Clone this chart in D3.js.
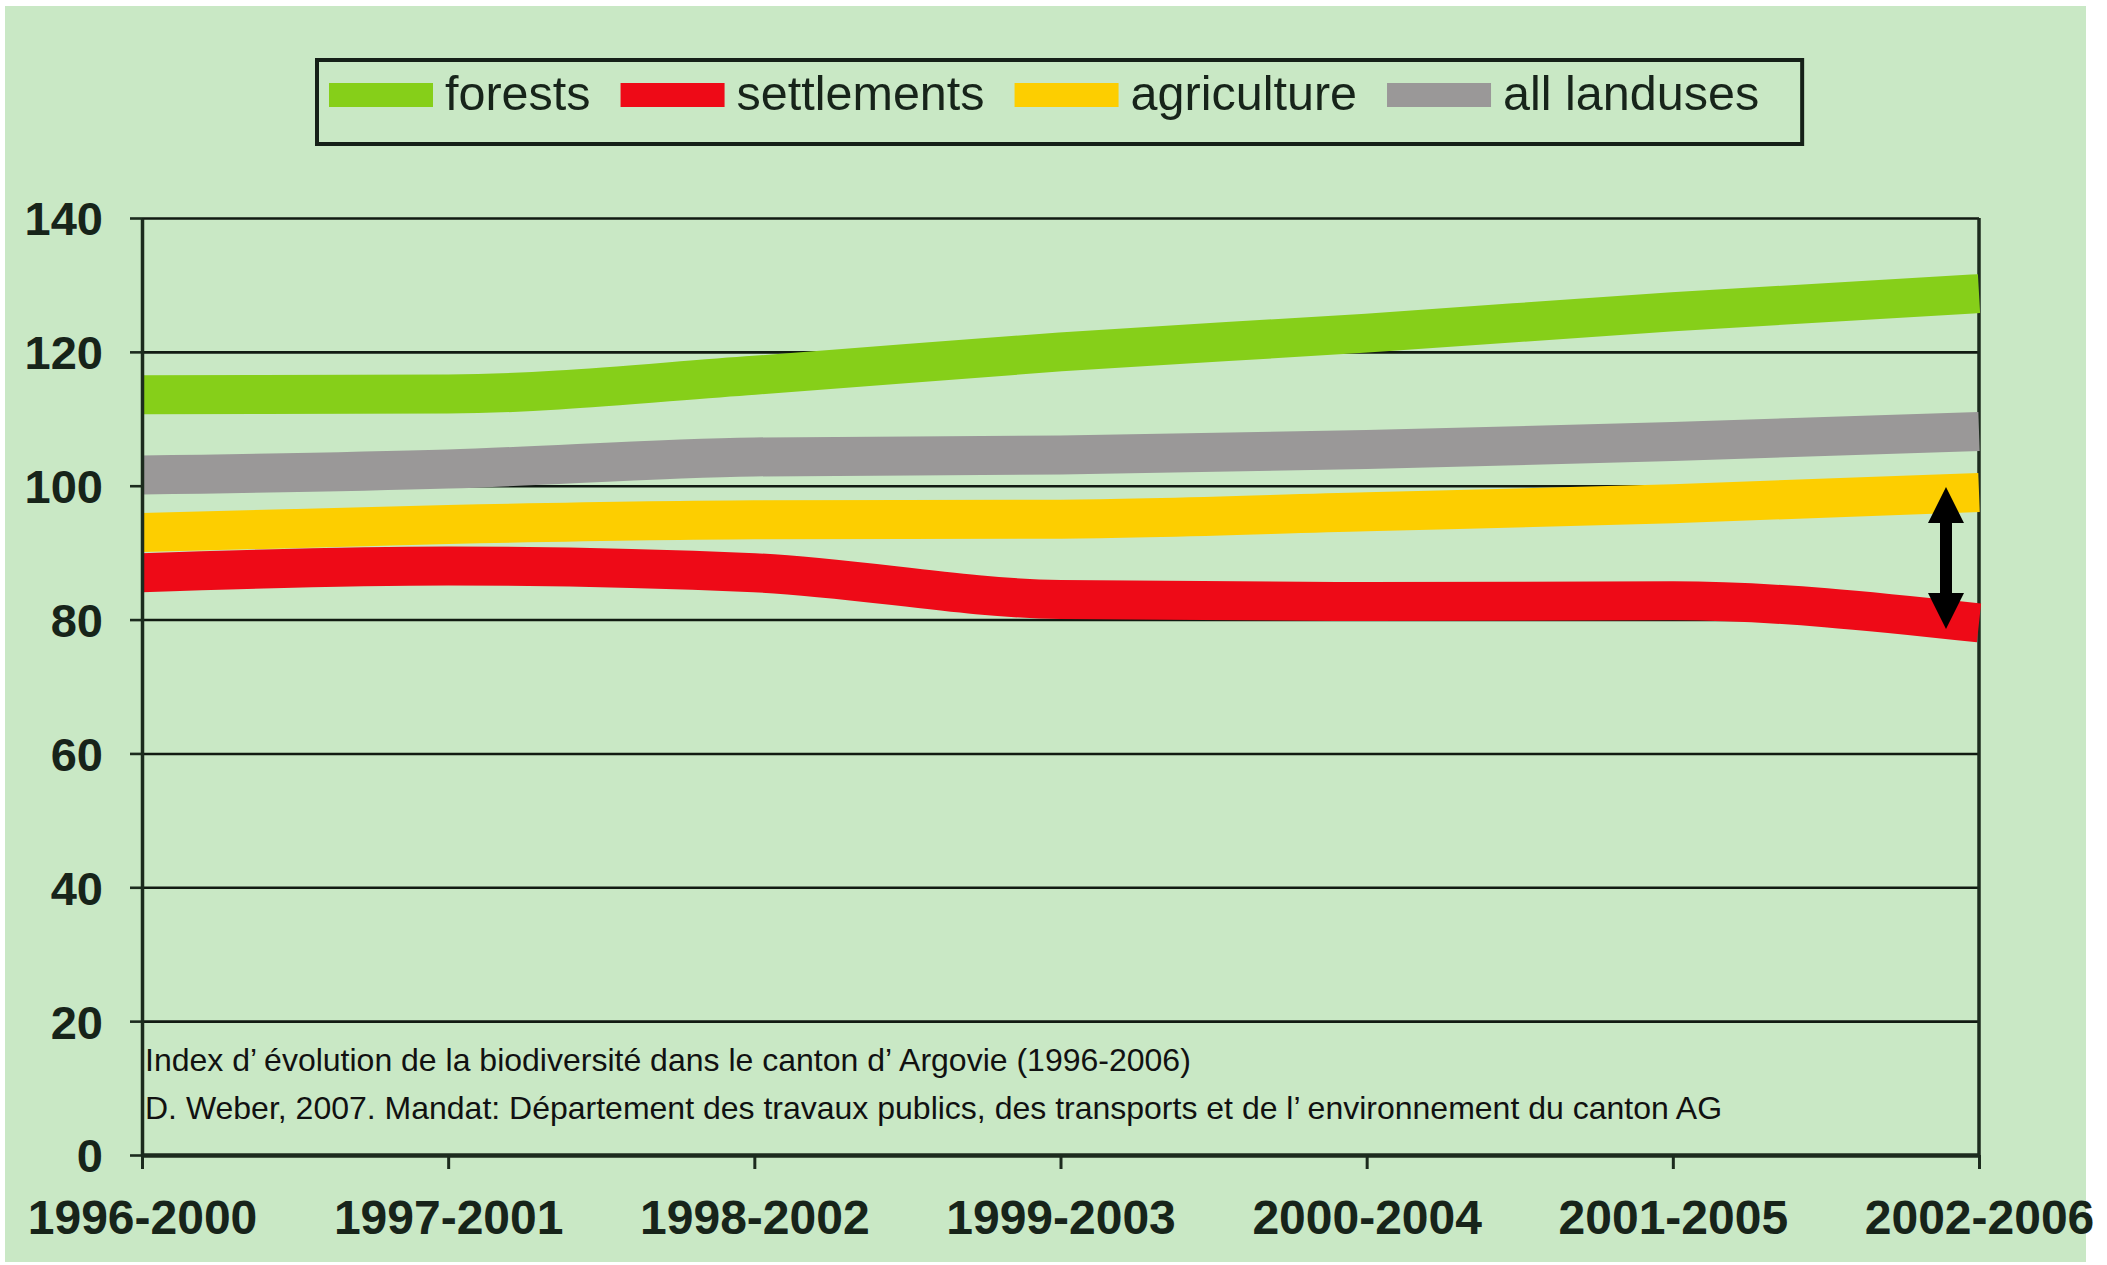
<!DOCTYPE html>
<html>
<head>
<meta charset="utf-8">
<script src="https://cdn.jsdelivr.net/npm/d3@7"></script>
<style>
  html, body { margin: 0; padding: 0; background: #ffffff; }
  svg { display: block; }
</style>
</head>
<body>
<svg id="chart" width="2107" height="1265"></svg>
<script>
// ---------------- data ----------------
const categories = ["1996-2000", "1997-2001", "1998-2002", "1999-2003", "2000-2004", "2001-2005", "2002-2006"];
const forests     = [113.6, 113.7, 116.5, 120.0, 122.8, 126.0, 128.7];
const settlements = [87.0, 88.0, 87.0, 83.0, 82.7, 82.8, 79.5];
const agriculture = [93.0, 94.2, 94.9, 95.0, 96.1, 97.3, 99.0];
const allLanduses = [101.6, 102.5, 104.3, 104.6, 105.4, 106.6, 108.1];
const seriesNames = ["forests", "settlements", "agriculture", "all landuses"];
const yTicks = [0, 20, 40, 60, 80, 100, 120, 140];
const arrowRange = [99.8, 78.6];
const noteLines = [
  "Index d’évolution de la biodiversité dans le canton d’Argovie (1996-2006)",
  "D. Weber, 2007. Mandat: Département des travaux publics, des transports et de l’environnement du canton AG"
];

// ---------------- setup ----------------
const colors = {
  "forests": "#86cf19",
  "settlements": "#ee0a17",
  "agriculture": "#fdce00",
  "all landuses": "#9a9898"
};
const seriesData = {
  "forests": forests,
  "settlements": settlements,
  "agriculture": agriculture,
  "all landuses": allLanduses
};
const FONT = "'Liberation Sans', Arial, Helvetica, sans-serif";
const INK = "#17241a";

const svg = d3.select("#chart");
svg.append("rect").attr("x", 5).attr("y", 6).attr("width", 2081).attr("height", 1256)
  .attr("fill", "#c9e8c5");

const x = d3.scalePoint().domain(categories).range([142, 1979]);
const y = d3.scaleLinear().domain([0, 140]).range([1155, 218]);

// grid
const grid = svg.append("g").attr("transform", "translate(142,0)")
  .call(d3.axisLeft(y).tickValues(yTicks.filter(d => d > 0)).tickSize(-(1979 - 142)).tickFormat(""));
grid.select(".domain").remove();
grid.selectAll(".tick line").attr("stroke", "#111a12").attr("stroke-width", 2.6);

// right border
svg.append("line").attr("x1", 1979).attr("x2", 1979).attr("y1", y(140)).attr("y2", y(0))
  .attr("stroke", "#1c2b1e").attr("stroke-width", 3.5);

// lines
const line = d3.line()
  .x((d, i) => x(categories[i]))
  .y(d => y(d))
  .curve(d3.curveMonotoneX);

const order = ["forests", "all landuses", "agriculture", "settlements"];
svg.append("g").selectAll("path").data(order).join("path")
  .attr("d", k => line(seriesData[k]))
  .attr("fill", "none")
  .attr("stroke", k => colors[k])
  .attr("stroke-width", 39)
  .attr("stroke-linecap", "butt")
  .attr("stroke-linejoin", "round");

// y axis
const yAxis = svg.append("g").attr("transform", "translate(142,0)")
  .call(d3.axisLeft(y).tickValues(yTicks).tickSizeInner(12).tickSizeOuter(0).tickPadding(27));
yAxis.select(".domain").attr("stroke", "#1c2b1e").attr("stroke-width", 3.5);
yAxis.selectAll(".tick line").attr("stroke", "#1c2b1e").attr("stroke-width", 2.6);
yAxis.selectAll(".tick text")
  .attr("font-family", FONT).attr("font-size", 47).attr("font-weight", "bold")
  .attr("fill", INK).attr("dy", "0.36em");

// x axis
const xAxis = svg.append("g").attr("transform", `translate(0,${y(0)})`)
  .call(d3.axisBottom(x).tickSizeInner(14).tickSizeOuter(0).tickPadding(31));
xAxis.select(".domain").attr("stroke", "#1c2b1e").attr("stroke-width", 4.5);
xAxis.selectAll(".tick line").attr("stroke", "#1c2b1e").attr("stroke-width", 3);
xAxis.selectAll(".tick text")
  .attr("font-family", FONT).attr("font-size", 48).attr("font-weight", "bold")
  .attr("fill", INK);

// arrow annotation
{
  const ax = x(categories[categories.length - 1]) - 33;
  const yt = y(arrowRange[0]), yb = y(arrowRange[1]);
  const hh = 36, hw = 18, sw = 6;
  const p = d3.path();
  p.moveTo(ax, yt);
  p.lineTo(ax + hw, yt + hh); p.lineTo(ax + sw, yt + hh);
  p.lineTo(ax + sw, yb - hh); p.lineTo(ax + hw, yb - hh);
  p.lineTo(ax, yb);
  p.lineTo(ax - hw, yb - hh); p.lineTo(ax - sw, yb - hh);
  p.lineTo(ax - sw, yt + hh); p.lineTo(ax - hw, yt + hh);
  p.closePath();
  svg.append("path").attr("d", p.toString()).attr("fill", "#000");
}

// notes
const notes = svg.append("g");
noteLines.forEach((t, i) => {
  const txt = notes.append("text")
    .attr("x", 145).attr("y", 1071 + i * 48)
    .attr("font-family", FONT).attr("font-size", 32).attr("fill", "#111");
  const parts = t.split("’");
  parts.forEach((part, j) => {
    const ts = txt.append("tspan").text(j < parts.length - 1 ? part + "’" : part);
    if (j > 0) ts.attr("dx", 7);
  });
});

// legend
const legend = svg.append("g");
const box = legend.append("rect");
let cx = 329;
seriesNames.forEach(name => {
  legend.append("rect").attr("x", cx).attr("y", 83).attr("width", 104).attr("height", 24)
    .attr("fill", colors[name]);
  const t = legend.append("text").attr("x", cx + 116).attr("y", 110)
    .attr("font-family", FONT).attr("font-size", 48.5).attr("fill", INK).text(name);
  cx = cx + 116 + t.node().getComputedTextLength() + 30;
});
box.attr("x", 317).attr("y", 60).attr("width", (cx - 30 + 43) - 317).attr("height", 84)
  .attr("fill", "none").attr("stroke", "#152018").attr("stroke-width", 4);
</script>
</body>
</html>
